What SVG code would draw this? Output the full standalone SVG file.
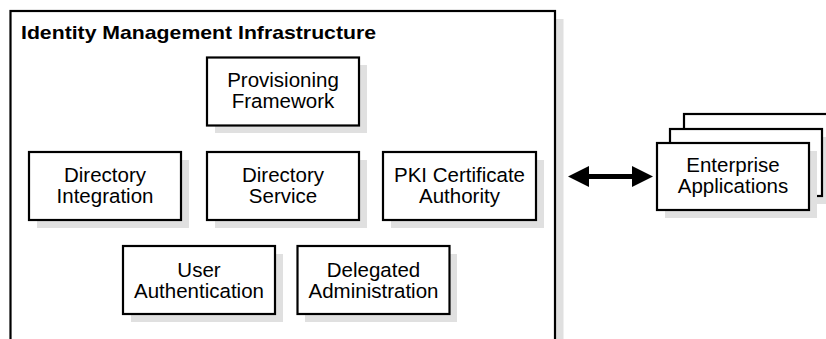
<svg xmlns="http://www.w3.org/2000/svg" width="826" height="339" viewBox="0 0 826 339">
<style>
.shadow{fill:#e0e0e0;stroke:none}
.box{fill:#ffffff;stroke:#000000;stroke-width:2.2}
.lbl{font-family:"Liberation Sans",Arial,Helvetica,sans-serif;font-size:20.5px;fill:#000000;text-anchor:middle}
.title{font-family:"Liberation Sans",Arial,Helvetica,sans-serif;font-size:19px;font-weight:bold;fill:#000000}
.arrow{fill:#000000;stroke:none}
</style>
<rect width="826" height="339" fill="#ffffff"/>
<g id="infrastructure">
<rect class="shadow" x="18" y="19" width="545.5" height="340"/>
<rect class="box" x="10.5" y="11" width="544.5" height="340"/>
<text class="title" x="21" y="39" textLength="355" lengthAdjust="spacingAndGlyphs">Identity Management Infrastructure</text>
</g>
<g id="provisioning">
<rect class="shadow" x="215" y="65" width="152" height="68"/>
<rect class="box" x="207" y="57.5" width="152" height="68"/>
<text class="lbl" x="283" y="87">Provisioning</text>
<text class="lbl" x="283" y="108">Framework</text>
</g>
<g id="dir-integration">
<rect class="shadow" x="37" y="160" width="152" height="68"/>
<rect class="box" x="29" y="152" width="152" height="68"/>
<text class="lbl" x="105" y="182">Directory</text>
<text class="lbl" x="105" y="203">Integration</text>
</g>
<g id="dir-service">
<rect class="shadow" x="215" y="160" width="152" height="68"/>
<rect class="box" x="207" y="152" width="152" height="68"/>
<text class="lbl" x="283" y="182">Directory</text>
<text class="lbl" x="283" y="203">Service</text>
</g>
<g id="pki">
<rect class="shadow" x="391" y="160" width="153" height="68"/>
<rect class="box" x="383" y="152" width="153" height="68"/>
<text class="lbl" x="459.5" y="182">PKI Certificate</text>
<text class="lbl" x="459.5" y="203">Authority</text>
</g>
<g id="user-auth">
<rect class="shadow" x="131" y="254" width="152" height="68"/>
<rect class="box" x="123" y="246" width="152" height="68"/>
<text class="lbl" x="199" y="276.5">User</text>
<text class="lbl" x="199" y="297.5">Authentication</text>
</g>
<g id="delegated-admin">
<rect class="shadow" x="305" y="254" width="152" height="68"/>
<rect class="box" x="297.5" y="246" width="152" height="68"/>
<text class="lbl" x="373.5" y="276.5">Delegated</text>
<text class="lbl" x="373.5" y="297.5">Administration</text>
</g>
<g id="enterprise-apps">
<rect class="shadow" x="692" y="122" width="152" height="67"/>
<rect class="box" x="684" y="114" width="152" height="67"/>
<rect class="shadow" x="678" y="137" width="152" height="67"/>
<rect class="box" x="670" y="129" width="152" height="67"/>
<rect class="shadow" x="665" y="151" width="152" height="67"/>
<rect class="box" x="657" y="143" width="152" height="67"/>
<text class="lbl" x="733" y="172">Enterprise</text>
<text class="lbl" x="733" y="193">Applications</text>
</g>
<g id="connectors">
<line x1="585" y1="176.5" x2="636" y2="176.5" stroke="#000000" stroke-width="5"/>
<polygon class="arrow" points="568,176.5 589,166 589,187"/>
<polygon class="arrow" points="653,176.5 632,166 632,187"/>
</g>
</svg>
